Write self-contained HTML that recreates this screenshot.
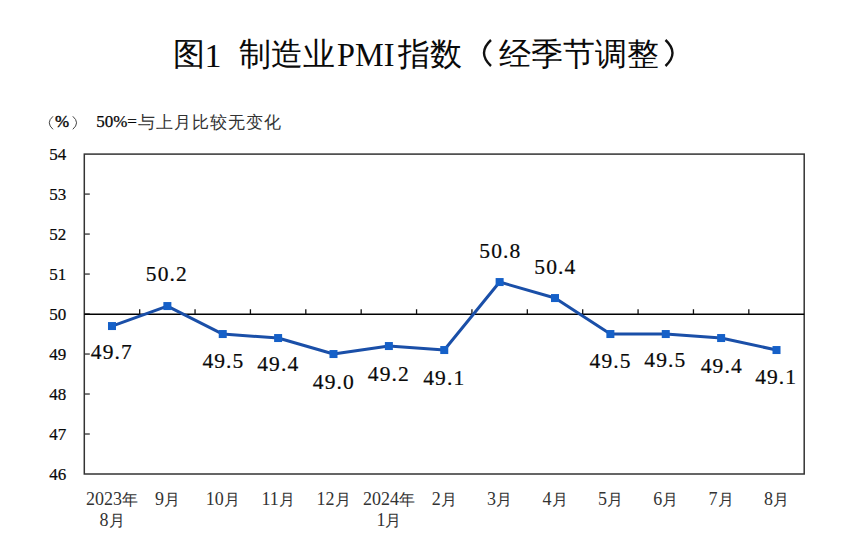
<!DOCTYPE html>
<html><head><meta charset="utf-8"><style>
html,body{margin:0;padding:0;background:#fff;}
body{width:865px;height:544px;position:relative;overflow:hidden;font-family:"Liberation Serif",serif;color:#0a0a0a;}
.t{position:absolute;white-space:nowrap;line-height:1;}
.yl{position:absolute;font-size:17px;-webkit-text-stroke:0.2px #000;line-height:17px;text-align:right;width:40px;}
.dl{position:absolute;font-size:21.5px;line-height:22px;letter-spacing:1.1px;text-indent:1.1px;-webkit-text-stroke:0.2px #000;width:80px;text-align:center;}
.xl b{font-weight:normal;font-size:18px;}
.xl{position:absolute;font-size:16.3px;line-height:20px;width:80px;text-align:center;color:#333;}
</style></head><body>

<svg width="865" height="544" style="position:absolute;left:0;top:0">
<rect x="84.3" y="154.1" width="719.90" height="319.90" fill="none" stroke="#333" stroke-width="1.5"/>
<line x1="84.3" y1="434.01" x2="89.80" y2="434.01" stroke="#333" stroke-width="1.3"/>
<line x1="84.3" y1="394.02" x2="89.80" y2="394.02" stroke="#333" stroke-width="1.3"/>
<line x1="84.3" y1="354.04" x2="89.80" y2="354.04" stroke="#333" stroke-width="1.3"/>
<line x1="84.3" y1="314.05" x2="89.80" y2="314.05" stroke="#333" stroke-width="1.3"/>
<line x1="84.3" y1="274.06" x2="89.80" y2="274.06" stroke="#333" stroke-width="1.3"/>
<line x1="84.3" y1="234.07" x2="89.80" y2="234.07" stroke="#333" stroke-width="1.3"/>
<line x1="84.3" y1="194.09" x2="89.80" y2="194.09" stroke="#333" stroke-width="1.3"/>
<line x1="84.3" y1="314.25" x2="804.2" y2="314.25" stroke="#000" stroke-width="1.5"/>
<line x1="139.68" y1="309.25" x2="139.68" y2="314.25" stroke="#111" stroke-width="1.3"/>
<line x1="195.05" y1="309.25" x2="195.05" y2="314.25" stroke="#111" stroke-width="1.3"/>
<line x1="250.43" y1="309.25" x2="250.43" y2="314.25" stroke="#111" stroke-width="1.3"/>
<line x1="305.81" y1="309.25" x2="305.81" y2="314.25" stroke="#111" stroke-width="1.3"/>
<line x1="361.18" y1="309.25" x2="361.18" y2="314.25" stroke="#111" stroke-width="1.3"/>
<line x1="416.56" y1="309.25" x2="416.56" y2="314.25" stroke="#111" stroke-width="1.3"/>
<line x1="471.94" y1="309.25" x2="471.94" y2="314.25" stroke="#111" stroke-width="1.3"/>
<line x1="527.32" y1="309.25" x2="527.32" y2="314.25" stroke="#111" stroke-width="1.3"/>
<line x1="582.69" y1="309.25" x2="582.69" y2="314.25" stroke="#111" stroke-width="1.3"/>
<line x1="638.07" y1="309.25" x2="638.07" y2="314.25" stroke="#111" stroke-width="1.3"/>
<line x1="693.45" y1="309.25" x2="693.45" y2="314.25" stroke="#111" stroke-width="1.3"/>
<line x1="748.82" y1="309.25" x2="748.82" y2="314.25" stroke="#111" stroke-width="1.3"/>
<polyline points="111.99,326.05 167.37,306.05 222.74,334.04 278.12,338.04 333.50,354.04 388.87,346.04 444.25,350.04 499.63,282.06 555.00,298.06 610.38,334.04 665.76,334.04 721.13,338.04 776.51,350.04" fill="none" stroke="#1a4fa8" stroke-width="3" stroke-linejoin="round"/>
<rect x="107.99" y="322.05" width="8" height="8" fill="#1560c8"/>
<rect x="163.37" y="302.05" width="8" height="8" fill="#1560c8"/>
<rect x="218.74" y="330.04" width="8" height="8" fill="#1560c8"/>
<rect x="274.12" y="334.04" width="8" height="8" fill="#1560c8"/>
<rect x="329.50" y="350.04" width="8" height="8" fill="#1560c8"/>
<rect x="384.87" y="342.04" width="8" height="8" fill="#1560c8"/>
<rect x="440.25" y="346.04" width="8" height="8" fill="#1560c8"/>
<rect x="495.63" y="278.06" width="8" height="8" fill="#1560c8"/>
<rect x="551.00" y="294.06" width="8" height="8" fill="#1560c8"/>
<rect x="606.38" y="330.04" width="8" height="8" fill="#1560c8"/>
<rect x="661.76" y="330.04" width="8" height="8" fill="#1560c8"/>
<rect x="717.13" y="334.04" width="8" height="8" fill="#1560c8"/>
<rect x="772.51" y="346.04" width="8" height="8" fill="#1560c8"/>
<path d="M491 40 Q477 53 491 66" fill="none" stroke="#111" stroke-width="2.4"/>
<path d="M665.5 40 Q679.5 53 665.5 66" fill="none" stroke="#111" stroke-width="2.4"/>
<path d="M53 116.3 Q45.5 122.8 53 129.3" fill="none" stroke="#444" stroke-width="1.0"/>
<path d="M72.8 116.3 Q80.3 122.8 72.8 129.3" fill="none" stroke="#444" stroke-width="1.0"/>
</svg>
<div class="t" style="left:173px;top:38px;font-size:32px;">图</div>
<div class="t" style="left:204.5px;top:38.5px;font-size:34px;">1</div>
<div class="t" style="left:239px;top:38px;font-size:32px;">制造业</div>
<div class="t" style="left:337px;top:38.4px;font-size:34px;transform-origin:0 0;transform:scaleX(0.95)">PMI</div>
<div class="t" style="left:397.5px;top:38px;font-size:32px;">指数</div>
<div class="t" style="left:498.5px;top:38px;font-size:32px;">经季节调整</div>
<div class="t" style="left:55px;top:113.3px;font-size:17px;-webkit-text-stroke:0.4px #000;">%</div>
<div class="t" style="left:96.2px;top:112.5px;font-size:17px;-webkit-text-stroke:0.25px #000;">50%=</div>
<div class="t" style="left:138.3px;top:114.6px;font-size:16.5px;letter-spacing:1.0px;color:#333;">与上月比较无变化</div>
<div class="yl" style="left:26.3px;top:465.7px">46</div>
<div class="yl" style="left:26.3px;top:425.7px">47</div>
<div class="yl" style="left:26.3px;top:385.7px">48</div>
<div class="yl" style="left:26.3px;top:345.7px">49</div>
<div class="yl" style="left:26.3px;top:305.7px">50</div>
<div class="yl" style="left:26.3px;top:265.8px">51</div>
<div class="yl" style="left:26.3px;top:225.8px">52</div>
<div class="yl" style="left:26.3px;top:185.8px">53</div>
<div class="yl" style="left:26.3px;top:145.8px">54</div>
<div class="dl" style="left:71.3px;top:341.1px">49.7</div>
<div class="dl" style="left:126.3px;top:263.1px">50.2</div>
<div class="dl" style="left:182.9px;top:349.8px">49.5</div>
<div class="dl" style="left:237.7px;top:353.4px">49.4</div>
<div class="dl" style="left:293.3px;top:371.0px">49.0</div>
<div class="dl" style="left:348.3px;top:362.9px">49.2</div>
<div class="dl" style="left:403.7px;top:366.8px">49.1</div>
<div class="dl" style="left:459.8px;top:239.7px">50.8</div>
<div class="dl" style="left:514.8px;top:256.3px">50.4</div>
<div class="dl" style="left:570.0px;top:349.6px">49.5</div>
<div class="dl" style="left:624.8px;top:349.4px">49.5</div>
<div class="dl" style="left:681.2px;top:355.0px">49.4</div>
<div class="dl" style="left:735.6px;top:366.3px">49.1</div>
<div class="xl" style="left:72.0px;top:489px"><b>2023</b>年<br><b>8</b>月</div>
<div class="xl" style="left:127.4px;top:489px"><b>9</b>月</div>
<div class="xl" style="left:182.7px;top:489px"><b>10</b>月</div>
<div class="xl" style="left:238.1px;top:489px"><b>11</b>月</div>
<div class="xl" style="left:293.5px;top:489px"><b>12</b>月</div>
<div class="xl" style="left:348.9px;top:489px"><b>2024</b>年<br><b>1</b>月</div>
<div class="xl" style="left:404.3px;top:489px"><b>2</b>月</div>
<div class="xl" style="left:459.6px;top:489px"><b>3</b>月</div>
<div class="xl" style="left:515.0px;top:489px"><b>4</b>月</div>
<div class="xl" style="left:570.4px;top:489px"><b>5</b>月</div>
<div class="xl" style="left:625.8px;top:489px"><b>6</b>月</div>
<div class="xl" style="left:681.1px;top:489px"><b>7</b>月</div>
<div class="xl" style="left:736.5px;top:489px"><b>8</b>月</div>
</body></html>
